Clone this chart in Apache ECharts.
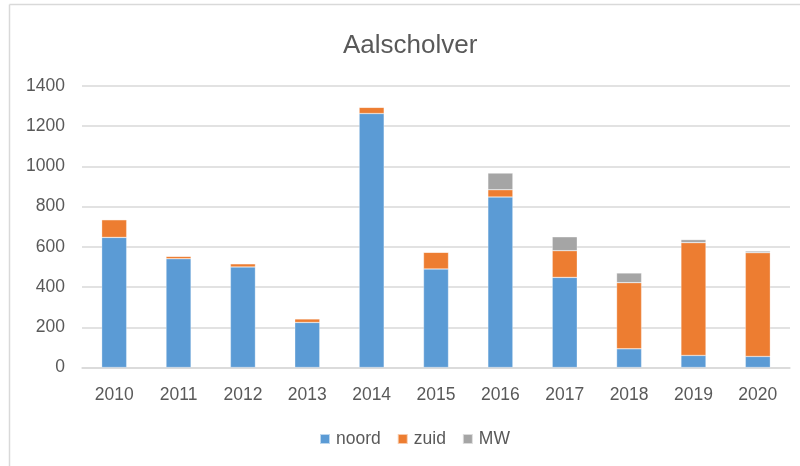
<!DOCTYPE html>
<html>
<head>
<meta charset="utf-8">
<script src="https://cdn.jsdelivr.net/npm/echarts@6/dist/echarts.min.js"></script>
<style>
  html, body { margin: 0; padding: 0; background: #fff; }
  #chart { width: 800px; height: 466px; }
</style>
</head>
<body>
<div id="chart"></div>
<script>
// Aalscholver counts per year, split by area
const years = ['2010','2011','2012','2013','2014','2015','2016','2017','2018','2019','2020'];
const noord = [647, 541, 500, 224, 1263, 490, 848, 448, 93, 60, 55];
const zuid  = [88, 12, 16, 18, 31, 83, 36, 133, 329, 561, 516];
const mw    = [0, 0, 0, 0, 0, 0, 83, 69, 48, 15, 8];
const yTicks = { min: 0, max: 1400, interval: 200 };

const FONT = '"Liberation Sans", Arial, sans-serif';
const TEXT = '#595959';
const GRID = '#D9D9D9';

const chart = echarts.init(document.getElementById('chart'), null, { renderer: 'canvas' });

function barSeries(name, data, color) {
  return {
    name: name,
    type: 'bar',
    stack: 'total',
    data: data,
    barWidth: 25,
    itemStyle: { color: color, borderColor: 'rgba(255,255,255,0.6)', borderWidth: 0.5 },
    emphasis: { disabled: true }
  };
}

chart.setOption({
  animation: false,
  backgroundColor: '#fff',
  textStyle: { fontFamily: FONT },
  title: {
    text: 'Aalscholver',
    left: 338,
    top: 28,
    textStyle: { fontFamily: FONT, fontSize: 26, fontWeight: 'normal', color: TEXT }
  },
  legend: {
    top: 425,
    left: 314,
    itemWidth: 10,
    itemHeight: 10,
    itemGap: 16,
    icon: 'rect',
    textStyle: { fontFamily: FONT, fontSize: 17.5, color: TEXT, padding: [0, 0, 0, 1] },
    data: ['noord', 'zuid', 'MW']
  },
  grid: { left: 82, right: 10, top: 86, bottom: 98.5, containLabel: false },
  xAxis: {
    type: 'category',
    data: years,
    axisTick: { show: false },
    axisLine: { show: true, lineStyle: { color: GRID, width: 1.5 } },
    axisLabel: { color: TEXT, fontFamily: FONT, fontSize: 17.5, margin: 19 }
  },
  yAxis: {
    type: 'value',
    min: yTicks.min,
    max: yTicks.max,
    interval: yTicks.interval,
    axisLine: { show: false },
    axisTick: { show: false },
    splitLine: { lineStyle: { color: GRID, width: 1.5 } },
    axisLabel: {
      color: TEXT, fontFamily: FONT, fontSize: 17.5, margin: 17,
      formatter: function (v) { return String(v); }
    }
  },
  graphic: [
    { type: 'line', shape: { x1: 9.5, y1: 4.5, x2: 9.5, y2: 466 }, style: { stroke: GRID, lineWidth: 1.5 }, silent: true },
    { type: 'line', shape: { x1: 9.5, y1: 4.5, x2: 800, y2: 4.5 }, style: { stroke: GRID, lineWidth: 1.5 }, silent: true }
  ],
  series: [
    barSeries('noord', noord, '#5B9BD5'),
    barSeries('zuid', zuid, '#ED7D31'),
    barSeries('MW', mw, '#A5A5A5')
  ]
});
</script>
</body>
</html>
